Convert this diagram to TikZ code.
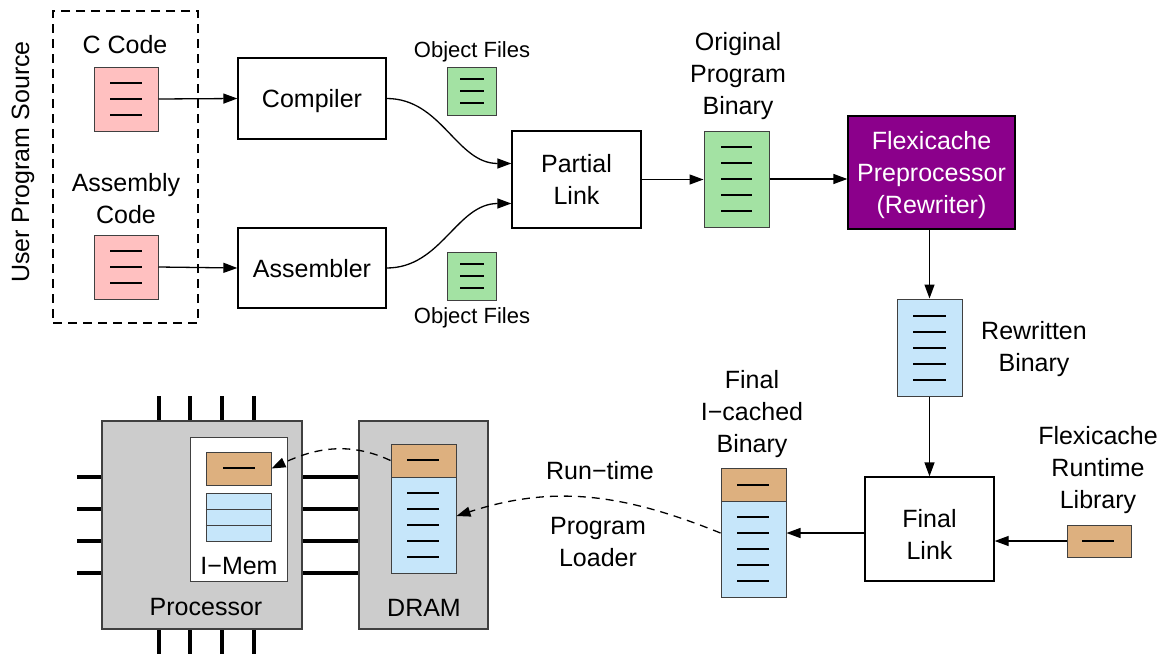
\documentclass[tikz,border=0pt]{standalone}
\usepackage{fontspec}
\setmainfont{Liberation Sans}
\usetikzlibrary{arrows.meta}
\definecolor{pinkf}{HTML}{FFC0C0}
\definecolor{greenf}{HTML}{A3E2A3}
\definecolor{bluef}{HTML}{C6E6FA}
\definecolor{tanf}{HTML}{DDB07F}
\definecolor{purp}{HTML}{8B008B}
\definecolor{grayb}{HTML}{CCCCCC}
\definecolor{fileedge}{HTML}{404040}
\begin{document}
\begin{tikzpicture}[x=1pt,y=-1pt,
 txtbase/.style={font=\fontsize{25}{32}\selectfont, align=center, inner sep=0pt},
 txt/.style={txtbase, yshift=-2.5pt},
 small/.style={font=\fontsize{22}{26}\selectfont, align=center, inner sep=0pt, yshift=-1.5pt},
 box/.style={draw=black, line width=1.3pt, fill=white, txtbase, text depth=0pt},
 file/.style={draw=fileedge, line width=1pt, inner sep=0pt},
 fl/.style={line width=1.3pt},
 thinl/.style={draw=fileedge, line width=0.9pt},
 arr/.style={line width=1.3pt, -{Triangle[length=14pt,width=10pt]}},
 darr/.style={line width=1.3pt, dash pattern=on 8pt off 6pt, -{Triangle[length=14pt,width=10pt]}},
 pin/.style={line width=3.2pt},
]
\useasboundingbox (0,0) rectangle (1166,653);

% user program source
\node[txtbase, rotate=90] (ups) at (23,162) {User Program Source};
\node[draw, line width=1.2pt, dash pattern=on 9pt off 6pt, minimum width=145pt, minimum height=312pt, inner sep=0pt] (src) at (125.5,167) {};
\node[txt] (ccl) at (125,42) {C Code};
\node[file, fill=pinkf, minimum width=64pt, minimum height=64pt] (cf) at (126,99) {};
\foreach \y in {83,99,115} \draw[fl] (110,\y) -- (142,\y);
\node[txt] (asl) at (126,196) {Assembly\\Code};
\node[file, fill=pinkf, minimum width=64pt, minimum height=64pt] (af) at (126,267) {};
\foreach \y in {251,267,283} \draw[fl] (110,\y) -- (142,\y);

% compiler / assembler
\node[box, minimum width=148pt, minimum height=81pt] (comp) at (312,98.5) {Compiler};
\node[box, minimum width=148pt, minimum height=80pt] (asm) at (312,268) {Assembler};
\draw[arr] (cf.east) -- (comp.west);
\draw[arr] (af.east) -- (asm.west);

% object files
\node[small] (ofl1) at (472,50) {Object Files};
\node[file, fill=greenf, minimum width=49pt, minimum height=48pt] (of1) at (472,91) {};
\foreach \y in {79,91,103} \draw[fl] (460,\y) -- (484,\y);
\node[file, fill=greenf, minimum width=49pt, minimum height=48pt] (of2) at (472,276) {};
\foreach \y in {264,276,288} \draw[fl] (460,\y) -- (484,\y);
\node[small] (ofl2) at (472,316) {Object Files};

% partial link
\node[box, minimum width=129pt, minimum height=97pt] (pl) at (576.5,179.5) {Partial\\Link};
\draw[arr] (comp.east) to[out=0,in=180] ([yshift=16pt]pl.west);
\draw[arr] (asm.east) to[out=0,in=180] ([yshift=-24pt]pl.west);

% original program binary
\node[txt] (obl) at (738,74) {Original\\Program\\Binary};
\node[file, fill=greenf, minimum width=65pt, minimum height=96pt] (ob) at (736.5,179) {};
\foreach \y in {147,163,179,195,211} \draw[fl] (721,\y) -- (752,\y);
\draw[arr] (pl.east) -- (pl.east -| ob.west);

% flexicache preprocessor
\node[box, fill=purp, text=white, minimum width=167pt, minimum height=113pt] (fx) at (931.5,172.5) {Flexicache\\Preprocessor\\(Rewriter)};
\draw[arr] (ob.east) -- (ob.east -| fx.west);

% rewritten binary
\node[file, fill=bluef, minimum width=65pt, minimum height=97pt] (rb) at (929.5,347.5) {};
\foreach \y in {316,332,348,364,380} \draw[fl] (913,\y) -- (946,\y);
\node[txt] (rbl) at (1034,347) {Rewritten\\Binary};
\draw[arr] (fx.south -| rb.north) -- (rb.north);

% final link
\node[box, minimum width=129pt, minimum height=104pt] (fl) at (929.5,529) {};
\node[txt] (fltext) at (929.5,532) {Final\\Link};
\draw[arr] (rb.south) -- (rb.south |- fl.north);

% runtime library
\node[txt] (rtl) at (1098,468) {Flexicache\\Runtime\\Library};
\node[file, fill=tanf, minimum width=64pt, minimum height=32pt] (rt) at (1099,541) {};
\draw[fl] (1082,541) -- (1114,541);
\draw[arr] (rt.west) -- (rt.west -| fl.east);

% final binary
\node[txt] (fbl) at (752,412) {Final\\I−cached\\Binary};
\node[file, fill=tanf, minimum width=65pt, minimum height=33pt] (fbt) at (753.5,484.5) {};
\draw[fl] (737,485) -- (769,485);
\node[file, fill=bluef, minimum width=65pt, minimum height=96pt] (fbb) at (753.5,549) {};
\foreach \y in {517,533,549,565,581} \draw[fl] (737,\y) -- (769,\y);
\draw[arr] ([yshift=-4pt]fl.west) -- ([yshift=-4pt]fl.west -| fbb.east);

% loader
\node[txt] (rtm) at (600,468) {Run−time};
\node[txt] (pldr) at (598,540) {Program\\Loader};

% pins
\foreach \x in {159,190,222,254} {
  \draw[pin] (\x,396) -- (\x,421);
  \draw[pin] (\x,629) -- (\x,655);
}
\foreach \y in {477,509,541,573} {
  \draw[pin] (77,\y) -- (102,\y);
  \draw[pin] (302,\y) -- (359,\y);
}

% processor
\node[draw=fileedge, line width=1.2pt, fill=grayb, minimum width=200pt, minimum height=208pt, inner sep=0pt] (proc) at (202,525) {};
\node[txt] (procl) at (206,605) {Processor};
\node[draw=fileedge, line width=1pt, fill=white, minimum width=97pt, minimum height=144pt, inner sep=0pt] (imem) at (238.5,509) {};
\node[txt] (imeml) at (239,564) {I−Mem};
\node[file, fill=tanf, minimum width=65pt, minimum height=33pt] (imt) at (238.5,468.5) {};
\draw[fl] (223,468) -- (255,468);
\node[file, fill=bluef, minimum width=65pt, minimum height=48pt] (imb) at (238.5,517) {};
\draw[thinl] (imb.west |- 0,509) -- (imb.east |- 0,509);
\draw[thinl] (imb.west |- 0,525) -- (imb.east |- 0,525);

% DRAM
\node[draw=fileedge, line width=1.2pt, fill=grayb, minimum width=129pt, minimum height=208pt, inner sep=0pt] (dram) at (423.5,525) {};
\node[txt] (draml) at (424,605) {DRAM};
\node[file, fill=tanf, minimum width=65pt, minimum height=33pt] (dt) at (423.5,460.5) {};
\draw[fl] (407,460) -- (439,460);
\node[file, fill=bluef, minimum width=65pt, minimum height=96pt] (db) at (423.5,525) {};
\foreach \y in {493,509,525,541,557} \draw[fl] (407,\y) -- (439,\y);

% dashed arrows
\draw[darr] (fbb.west |- 0,533) to[out=158,in=18] ([yshift=9pt]db.east);
\draw[darr] (dt.west) to[out=155,in=25] (imt.east);
\end{tikzpicture}
\end{document}
